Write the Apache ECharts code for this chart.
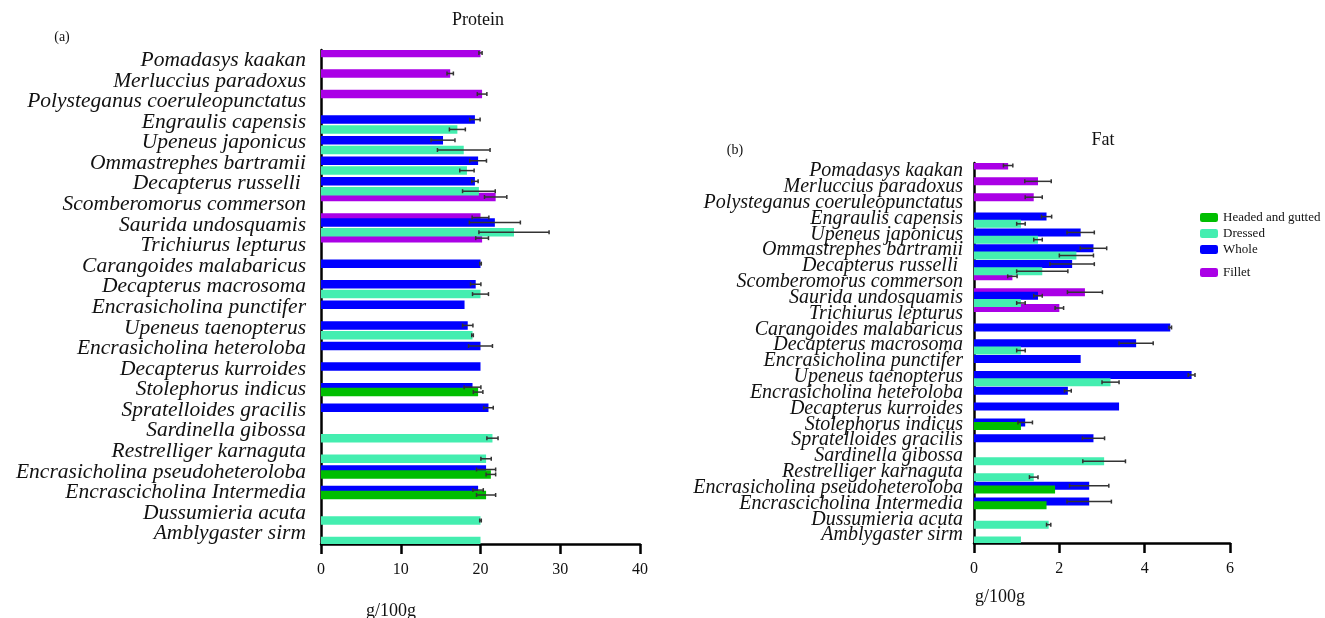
<!DOCTYPE html>
<html>
<head>
<meta charset="utf-8">
<script src="https://cdn.jsdelivr.net/npm/echarts@6/dist/echarts.min.js"></script>
<style>
  html, body { margin: 0; padding: 0; background: #fff; }
  #main { width: 1325px; height: 618px; }
</style>
</head>
<body>
<div id="main"></div>
<script>
// species, top to bottom
const species = ['Pomadasys kaakan', 'Merluccius paradoxus', 'Polysteganus coeruleopunctatus',
  'Engraulis capensis', 'Upeneus japonicus', 'Ommastrephes bartramii', 'Decapterus russelli ',
  'Scomberomorus commerson', 'Saurida undosquamis', 'Trichiurus lepturus', 'Carangoides malabaricus',
  'Decapterus macrosoma', 'Encrasicholina punctifer', 'Upeneus taenopterus', 'Encrasicholina heteroloba',
  'Decapterus kurroides', 'Stolephorus indicus', 'Spratelloides gracilis', 'Sardinella gibossa',
  'Restrelliger karnaguta', 'Encrasicholina pseudoheteroloba', 'Encrascicholina Intermedia',
  'Dussumieria acuta', 'Amblygaster sirm'];

const forms = ['Fillet', 'Whole', 'Headed and gutted', 'Dressed'];
const formColors = ['#AA00E6', '#0000FF', '#00BE00', '#44EEB0'];
const legendOrder = ['Headed and gutted', 'Dressed', 'Whole'];

const _ = null;
// protein g/100g
const proteinFillet = [20.0, 16.2, 20.2, _, _, _, _, 21.9, 20.0, 20.2, _, _, _, _, _, _, _, _, _, _, _, _, _, _];
const proteinFilletErr = [0.2, 0.4, 0.6, _, _, _, _, 1.4, 1.05, 0.8, _, _, _, _, _, _, _, _, _, _, _, _, _, _];
const proteinWhole = [_, _, _, 19.3, 15.3, 19.7, 19.3, _, 21.8, _, 20.0, 19.4, 18.0, 18.4, 20.0, 20.0, 19.0, 21.0, _, _, 20.7, 19.7, _, _];
const proteinWholeErr = [_, _, _, 0.65, 1.5, 1.05, 0.4, _, 3.2, _, 0.1, 0.65, 0, 0.65, 1.5, 0, 1.05, 0.6, _, _, 1.2, 0.65, _, _];
const proteinHG = [_, _, _, _, _, _, _, _, _, _, _, _, _, _, _, _, 19.7, _, _, _, 21.3, 20.7, _, _];
const proteinHGErr = [_, _, _, _, _, _, _, _, _, _, _, _, _, _, _, _, 0.6, _, _, _, 0.6, 1.2, _, _];
const proteinDressed = [_, _, _, 17.1, 17.9, 18.3, 19.8, _, 24.2, _, _, 20.0, _, 19.0, _, _, _, _, 21.5, 20.7, _, _, 20.0, 20.0];
const proteinDressedErr = [_, _, _, 1.0, 3.3, 0.9, 2.05, _, 4.4, _, _, 1.0, _, 0.1, _, _, _, _, 0.7, 0.65, _, _, 0.1, 0];

// fat g/100g
const fatFillet = [0.8, 1.5, 1.4, _, _, _, _, 0.9, 2.6, 2.0, _, _, _, _, _, _, _, _, _, _, _, _, _, _];
const fatFilletErr = [0.11, 0.31, 0.2, _, _, _, _, 0.11, 0.41, 0.1, _, _, _, _, _, _, _, _, _, _, _, _, _, _];
const fatWhole = [_, _, _, 1.7, 2.5, 2.8, 2.3, _, 1.5, _, 4.6, 3.8, 2.5, 5.1, 2.2, 3.4, 1.2, 2.8, _, _, 2.7, 2.7, _, _];
const fatWholeErr = [_, _, _, 0.12, 0.32, 0.31, 0.52, _, 0.1, _, 0.03, 0.4, 0, 0.08, 0.08, 0, 0.17, 0.26, _, _, 0.46, 0.52, _, _];
const fatHG = [_, _, _, _, _, _, _, _, _, _, _, _, _, _, _, _, 1.1, _, _, _, 1.9, 1.7, _, _];
const fatHGErr = [_, _, _, _, _, _, _, _, _, _, _, _, _, _, _, _, 0, _, _, _, 0, 0, _, _];
const fatDressed = [_, _, _, 1.1, 1.5, 2.4, 1.6, _, 1.1, _, _, 1.1, _, 3.2, _, _, _, _, 3.05, 1.4, _, _, 1.75, 1.1];
const fatDressedErr = [_, _, _, 0.1, 0.1, 0.4, 0.6, _, 0.1, _, _, 0.1, _, 0.2, _, _, _, _, 0.5, 0.1, _, _, 0.05, 0];

const proteinTicks = { min: 0, max: 40, interval: 10 };
const fatTicks = { min: 0, max: 6, interval: 2 };

const FONT = 'Liberation Serif';
const BAR_W = [8.5, 8];
const BAR_GAP = ['-42%', '-55%'];

function errData(vals, errs, slot) {
  const out = [];
  vals.forEach((v, i) => {
    if (v != null && errs[i]) out.push([v, i, errs[i], slot]);
  });
  return out;
}

function errSeries(panel, sets) {
  let data = [];
  sets.forEach((s, k) => { data = data.concat(errData(s[0], s[1], k)); });
  return {
    type: 'custom',
    xAxisIndex: panel, yAxisIndex: panel,
    z: 5, silent: true,
    encode: { x: 0, y: 1 },
    data: data,
    renderItem: function (params, api) {
      const v = api.value(0), c = api.value(1), e = api.value(2), slot = api.value(3);
      const lay = api.barLayout({ count: 4, barWidth: BAR_W[panel], barGap: BAR_GAP[panel] });
      const y = api.coord([v, c])[1] + lay[slot].offsetCenter;
      const x1 = api.coord([v - e, c])[0], x2 = api.coord([v + e, c])[0];
      const st = { stroke: '#333', lineWidth: 1.5 };
      return {
        type: 'group',
        children: [
          { type: 'line', shape: { x1: x1, y1: y, x2: x2, y2: y }, style: st },
          { type: 'line', shape: { x1: x1, y1: y - 2, x2: x1, y2: y + 2 }, style: st },
          { type: 'line', shape: { x1: x2, y1: y - 2, x2: x2, y2: y + 2 }, style: st }
        ]
      };
    }
  };
}

function barSeries(panel, sets) {
  return sets.map((vals, k) => ({
    name: forms[k],
    type: 'bar',
    xAxisIndex: panel, yAxisIndex: panel,
    barWidth: BAR_W[panel],
    barGap: BAR_GAP[panel],
    itemStyle: { color: formColors[k] },
    data: vals
  }));
}

function yAxis(grid, size, margin) {
  return {
    type: 'category', gridIndex: grid, data: species, inverse: true,
    axisLine: { lineStyle: { color: '#000', width: 2.5 } },
    axisTick: { alignWithLabel: true, length: 9, lineStyle: { color: '#000', width: 2.5 } },
    axisLabel: { fontFamily: FONT, fontStyle: 'italic', fontSize: size, color: '#111', margin: margin, interval: 0 },
    splitLine: { show: false }
  };
}

function xAxis(grid, t) {
  return {
    type: 'value', gridIndex: grid, min: t.min, max: t.max, interval: t.interval,
    axisLine: { show: true, lineStyle: { color: '#000', width: 2.5 } },
    axisTick: { show: true, length: 10, lineStyle: { color: '#000', width: 2.5 } },
    axisLabel: { fontFamily: FONT, fontSize: 16, color: '#111', margin: 18 },
    splitLine: { show: false }
  };
}

const chart = echarts.init(document.getElementById('main'));
chart.setOption({
  animation: false,
  textStyle: { fontFamily: FONT },
  title: [
    { text: 'Protein', left: 473, top: 6, textAlign: 'center', textStyle: { fontFamily: FONT, fontWeight: 'normal', fontSize: 18, color: '#111' } },
    { text: '(a)', left: 57, top: 25, textAlign: 'center', textStyle: { fontFamily: FONT, fontWeight: 'normal', fontSize: 14, color: '#111' } },
    { text: 'Fat', left: 1098, top: 126, textAlign: 'center', textStyle: { fontFamily: FONT, fontWeight: 'normal', fontSize: 18, color: '#111' } },
    { text: '(b)', left: 730, top: 138, textAlign: 'center', textStyle: { fontFamily: FONT, fontWeight: 'normal', fontSize: 14, color: '#111' } },
    { text: 'g/100g', left: 386, top: 597, textAlign: 'center', textStyle: { fontFamily: FONT, fontWeight: 'normal', fontSize: 18, color: '#111' } },
    { text: 'g/100g', left: 995, top: 583, textAlign: 'center', textStyle: { fontFamily: FONT, fontWeight: 'normal', fontSize: 18, color: '#111' } }
  ],
  legend: [
    { data: legendOrder, orient: 'vertical', left: 1195, top: 206, itemGap: 3, itemWidth: 18, itemHeight: 9, itemGap: 3, icon: 'roundRect',
      textStyle: { fontFamily: FONT, fontSize: 13, color: '#111' } },
    { data: ['Fillet'], orient: 'vertical', left: 1195, top: 261, itemWidth: 18, itemHeight: 9, icon: 'roundRect',
      textStyle: { fontFamily: FONT, fontSize: 13, color: '#111' } }
  ],
  grid: [
    { left: 321, top: 50, width: 319, height: 494 },
    { left: 974, top: 163, width: 256, height: 380 }
  ],
  xAxis: [xAxis(0, proteinTicks), xAxis(1, fatTicks)],
  yAxis: [yAxis(0, 21.5, 15), yAxis(1, 20, 11)],
  series: []
    .concat(barSeries(0, [proteinFillet, proteinWhole, proteinHG, proteinDressed]))
    .concat(barSeries(1, [fatFillet, fatWhole, fatHG, fatDressed]))
    .concat([
      errSeries(0, [[proteinFillet, proteinFilletErr], [proteinWhole, proteinWholeErr], [proteinHG, proteinHGErr], [proteinDressed, proteinDressedErr]]),
      errSeries(1, [[fatFillet, fatFilletErr], [fatWhole, fatWholeErr], [fatHG, fatHGErr], [fatDressed, fatDressedErr]])
    ])
});
</script>
</body>
</html>
